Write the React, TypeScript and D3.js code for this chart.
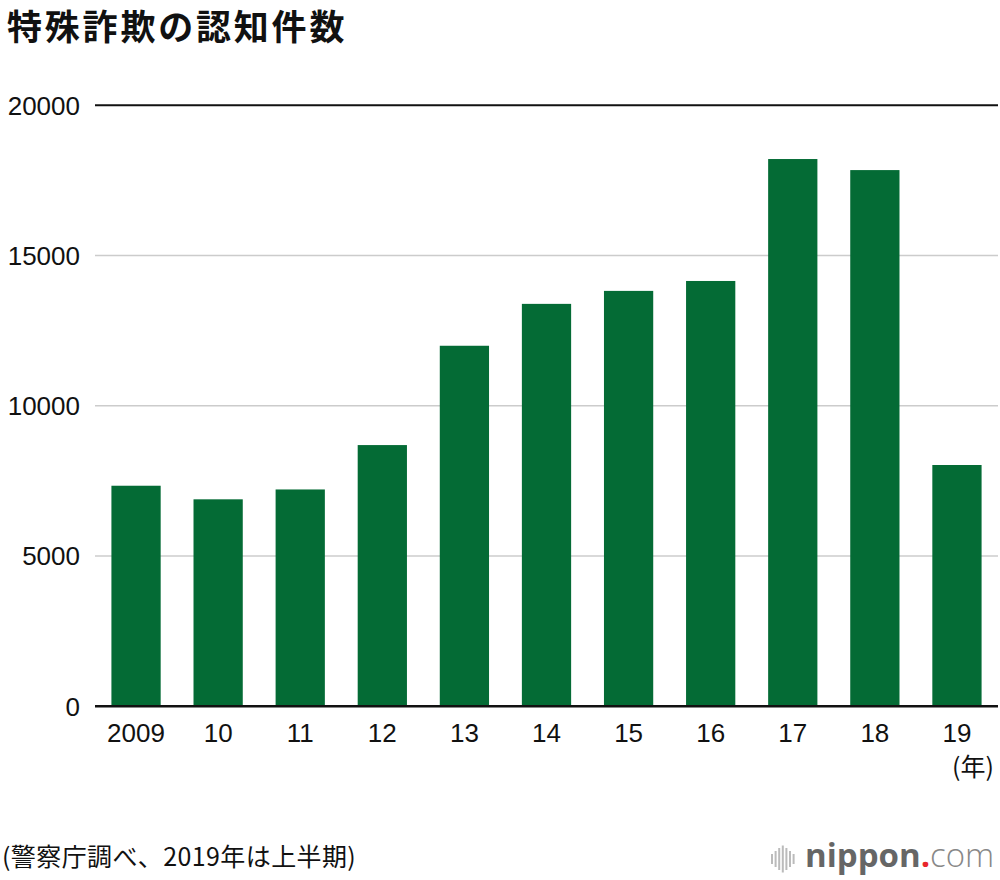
import React from "react";
import * as d3 from "d3";

const years = ["2009", "10", "11", "12", "13", "14", "15", "16", "17", "18", "19"];
const counts = [7340, 6888, 7216, 8693, 11998, 13392, 13824, 14154, 18212, 17844, 8030];
const yTicks = [0, 5000, 10000, 15000, 20000];
const title = "特殊詐欺の認知件数";
const footnote = "(警察庁調べ、2019年は上半期)";
const unitLabel = "(年)";
const logoBars = [10, 16, 22, 27, 22, 16, 10];

const W = 1000;
const H = 880;
const left = 95;
const right = 998;
const top = 105.3;
const bottom = 706.3;

const latin = "'Liberation Sans', Arial, 'Noto Sans CJK JP', sans-serif";
const cjk = "'Noto Sans CJK JP', 'Liberation Sans', sans-serif";

export default function App() {
  const x = d3.scaleBand<string>().domain(years).range([left, right]).paddingInner(0.4).paddingOuter(0.2);
  const y = d3.scaleLinear().domain([0, 20000]).range([bottom, top]);

  return (
    <svg width={W} height={H} style={{ position: "absolute", left: 0, top: 0, background: "#fff" }}>
      <text x={7} y={40} fontFamily={cjk} fontWeight={700} fontSize={35} fill="#111" letterSpacing={2.8}>
        {title}
      </text>

      {yTicks.map((t) => (
        <g key={t}>
          {t > 0 && (
            <line
              x1={left}
              x2={right}
              y1={y(t)}
              y2={y(t)}
              stroke={t === 20000 ? "#111" : "#cccccc"}
              strokeWidth={t === 20000 ? 2 : 1.6}
            />
          )}
          <text x={80} y={y(t)} dy="0.36em" textAnchor="end" fontFamily={latin} fontSize={26} fill="#111">
            {t}
          </text>
        </g>
      ))}

      {years.map((yr, i) => (
        <rect
          key={yr}
          x={x(yr)}
          y={y(counts[i])}
          width={x.bandwidth()}
          height={y(0) - y(counts[i])}
          fill="#046b35"
        />
      ))}

      <line x1={left} x2={right} y1={bottom} y2={bottom} stroke="#111" strokeWidth={2.5} />

      {years.map((yr) => (
        <text
          key={yr}
          x={(x(yr) as number) + x.bandwidth() / 2}
          y={741.5}
          textAnchor="middle"
          fontFamily={latin}
          fontSize={26}
          fill="#111"
        >
          {yr}
        </text>
      ))}

      <text x={994} y={776} textAnchor="end" fontFamily={cjk} fontSize={25} fill="#111">
        {unitLabel}
      </text>

      <text x={2} y={866} fontFamily={cjk} fontSize={25} fill="#111" letterSpacing={0.4}>
        {footnote}
      </text>

      <g>
        {logoBars.map((h, i) => (
          <rect key={i} x={771 + i * 3.6} y={859 - h / 2} width={2} height={h} fill="#bbbbbb" />
        ))}
        <text x={805} y={867} fontFamily="'Open Sans', sans-serif" fontSize={33}>
          <tspan fontWeight={700} fill="#666666">nippon</tspan>
          <tspan fontWeight={700} fill="#e8262b">.</tspan>
          <tspan fontWeight={300} fill="#888888">com</tspan>
        </text>
      </g>
    </svg>
  );
}
